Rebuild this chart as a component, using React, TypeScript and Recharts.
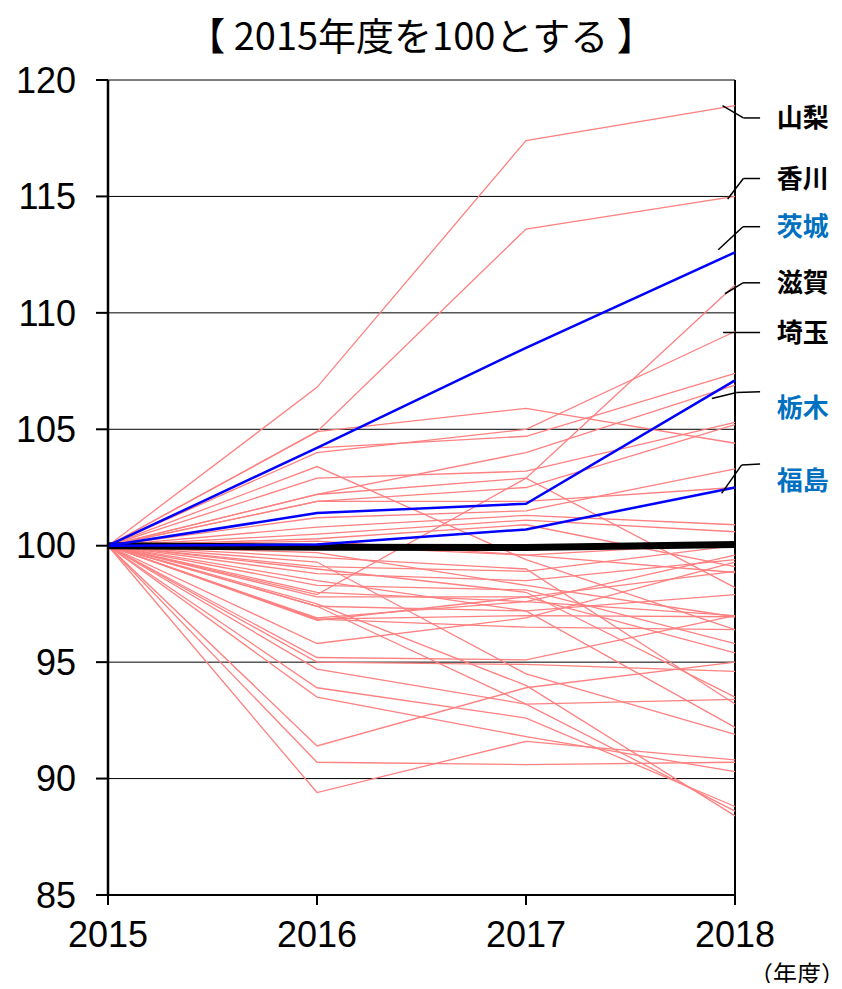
import {
  LineChart, Line, XAxis, YAxis, CartesianGrid, ReferenceLine, ReferenceDot,
} from "recharts";

const YEARS = [2015, 2016, 2017, 2018];
const Y_TICKS = [85, 90, 95, 100, 105, 110, 115, 120];

// labelled prefectures (2015 = 100)
const YAMANASHI = [100, 106.8, 117.4, 118.9];
const KAGAWA = [100, 104.9, 113.6, 115.0];
const SHIGA = [100, 97.9, 102.9, 111.2];
const SAITAMA = [100, 104.0, 105.0, 109.2];
const IBARAKI = [100, 104.2, 108.5, 112.6];
const TOCHIGI = [100, 101.4, 101.8, 107.1];
const FUKUSHIMA = [100, 100.05, 100.7, 102.5];
const NATIONAL = [100, 99.93, 99.92, 100.05];

// the other prefectures
const OTHER_PREFS = [
  [100, 104.2, 104.7, 107.4],
  [100, 102.2, 104.0, 106.9],
  [100, 104.9, 105.9, 104.4],
  [100, 102.9, 103.2, 105.3],
  [100, 101.9, 102.5, 105.2],
  [100, 103.4, 99.4, 96.4],
  [100, 101.2, 101.5, 103.3],
  [100, 102.2, 102.9, 98.2],
  [100, 101.9, 101.9, 102.5],
  [100, 100.8, 101.3, 100.9],
  [100, 100.5, 101.1, 100.6],
  [100, 100.3, 100.9, 99.1],
  [100, 100.0, 99.6, 100.1],
  [100, 99.3, 94.5, 91.9],
  [100, 99.1, 98.9, 100.0],
  [100, 98.8, 98.5, 99.4],
  [100, 98.3, 98.1, 95.8],
  [100, 98.0, 97.6, 99.6],
  [100, 97.8, 97.8, 98.9],
  [100, 97.4, 97.2, 97.9],
  [100, 97.4, 93.2, 93.4],
  [100, 96.9, 97.6, 97.0],
  [100, 96.85, 97.0, 96.95],
  [100, 96.85, 96.5, 96.4],
  [100, 96.8, 97.8, 95.4],
  [100, 95.8, 96.9, 99.3],
  [100, 95.2, 95.1, 97.0],
  [100, 95.0, 94.9, 94.6],
  [100, 94.7, 93.2, 88.6],
  [100, 93.9, 92.6, 88.8],
  [100, 93.5, 91.8, 90.3],
  [100, 91.4, 93.9, 95.0],
  [100, 90.7, 90.6, 90.7],
  [100, 89.4, 91.6, 90.8],
  [100, 99.5, 99.0, 93.2],
  [100, 99.0, 98.0, 93.5],
  [100, 98.5, 97.2, 92.2],
  [100, 97.5, 94.0, 88.4],
  [100, 100.2, 99.6, 98.85],
  [100, 99.7, 98.3, 96.95],
];

const PINK_SERIES = [YAMANASHI, KAGAWA, SHIGA, SAITAMA, ...OTHER_PREFS];

const data = YEARS.map((year, i) => {
  const row: any = {
    year,
    national: NATIONAL[i],
    ibaraki: IBARAKI[i],
    tochigi: TOCHIGI[i],
    fukushima: FUKUSHIMA[i],
  };
  PINK_SERIES.forEach((s, k) => { row["p" + k] = s[i]; });
  return row;
});

const BLACK = "#000";
const BLUE_TXT = "#0070C0";

// leader lines + names on the right, in data space
const LABELS = [
  { name: "山梨", color: BLACK, y: 118.37, pts: [[2017.94, 118.9], [2018.04, 118.37], [2018.12, 118.37]] },
  { name: "香川", color: BLACK, y: 115.77, pts: [[2017.965, 114.89], [2018.04, 115.77], [2018.12, 115.77]] },
  { name: "茨城", color: BLUE_TXT, y: 113.7, pts: [[2017.92, 112.71], [2018.038, 113.7], [2018.12, 113.7]] },
  { name: "滋賀", color: BLACK, y: 111.29, pts: [[2017.952, 110.82], [2018.038, 111.29], [2018.12, 111.29]] },
  { name: "埼玉", color: BLACK, y: 109.16, pts: [[2017.943, 109.16], [2018.12, 109.16]] },
  { name: "栃木", color: BLUE_TXT, y: 105.93, pts: [[2017.889, 106.32], [2018.008, 106.58], [2018.12, 106.61]] },
  { name: "福島", color: BLUE_TXT, y: 102.79, pts: [[2017.936, 102.25], [2018.032, 103.47], [2018.12, 103.51]] },
];

const NUM_FONT = "'Liberation Sans', Arial, sans-serif";
const JP_FONT = "'Noto Sans CJK JP', 'Noto Sans', sans-serif";

export default function App() {
  return (
    <div style={{ position: "relative", width: 826, height: 975 }}>
      <div
        style={{
          position: "absolute", left: 0, width: 826, top: 4, textAlign: "center",
          fontFamily: JP_FONT, fontSize: 38, fontWeight: 400, color: "#000", lineHeight: "44px",
          whiteSpace: "nowrap",
        }}
      >
        【 2015年度を100とする 】
      </div>
      <LineChart
        width={826}
        height={960}
        data={data}
        margin={{ top: 72, right: 99, bottom: 33, left: 0 }}
      >
        <CartesianGrid vertical={false} stroke="#000" strokeWidth={1} />
        <XAxis
          dataKey="year"
          type="number"
          domain={[2015, 2018]}
          ticks={YEARS}
          height={40}
          axisLine={{ stroke: "#000", strokeWidth: 2 }}
          tickLine={{ stroke: "#000", strokeWidth: 2 }}
          tickSize={10}
          tickMargin={16}
          tick={{ fill: "#000", fontSize: 36, fontFamily: NUM_FONT }}
        />
        <YAxis
          domain={[85, 120]}
          ticks={Y_TICKS}
          width={100}
          interval={0}
          axisLine={{ stroke: "#000", strokeWidth: 2.5 }}
          tickLine={{ stroke: "#000", strokeWidth: 2 }}
          tickSize={12}
          tickMargin={20}
          tick={{ fill: "#000", fontSize: 36, fontFamily: NUM_FONT }}
        />
        <ReferenceLine x={2018} stroke="#000" strokeWidth={2} />
        {PINK_SERIES.map((_, k) => (
          <Line
            key={k}
            dataKey={"p" + k}
            stroke="#FF8080"
            strokeWidth={1.3}
            dot={false}
            isAnimationActive={false}
          />
        ))}
        <Line dataKey="national" stroke="#000" strokeWidth={7} dot={false} isAnimationActive={false} />
        <Line dataKey="ibaraki" stroke="#0000FF" strokeWidth={2.5} dot={false} isAnimationActive={false} />
        <Line dataKey="tochigi" stroke="#0000FF" strokeWidth={2.5} dot={false} isAnimationActive={false} />
        <Line dataKey="fukushima" stroke="#0000FF" strokeWidth={2.5} dot={false} isAnimationActive={false} />
        {LABELS.flatMap((l) =>
          l.pts.slice(1).map((p, j) => (
            <ReferenceLine
              key={l.name + j}
              segment={[{ x: l.pts[j][0], y: l.pts[j][1] }, { x: p[0], y: p[1] }]}
              stroke="#000"
              strokeWidth={1.5}
              ifOverflow="visible"
            />
          ))
        )}
        {LABELS.map((l) => (
          <ReferenceDot
            key={l.name}
            x={2018.2}
            y={l.y}
            r={0}
            stroke="none"
            ifOverflow="visible"
            label={{
              value: l.name, position: "right", offset: 0, fill: l.color,
              fontSize: 26, fontWeight: 700, fontFamily: JP_FONT,
            }}
          />
        ))}
      </LineChart>
      <div
        style={{
          position: "absolute", left: 753, top: 952, fontFamily: JP_FONT,
          fontSize: 24, color: "#000", lineHeight: "26px", whiteSpace: "nowrap",
          fontFeatureSettings: '"halt"',
        }}
      >
        （年度）
      </div>
    </div>
  );
}
